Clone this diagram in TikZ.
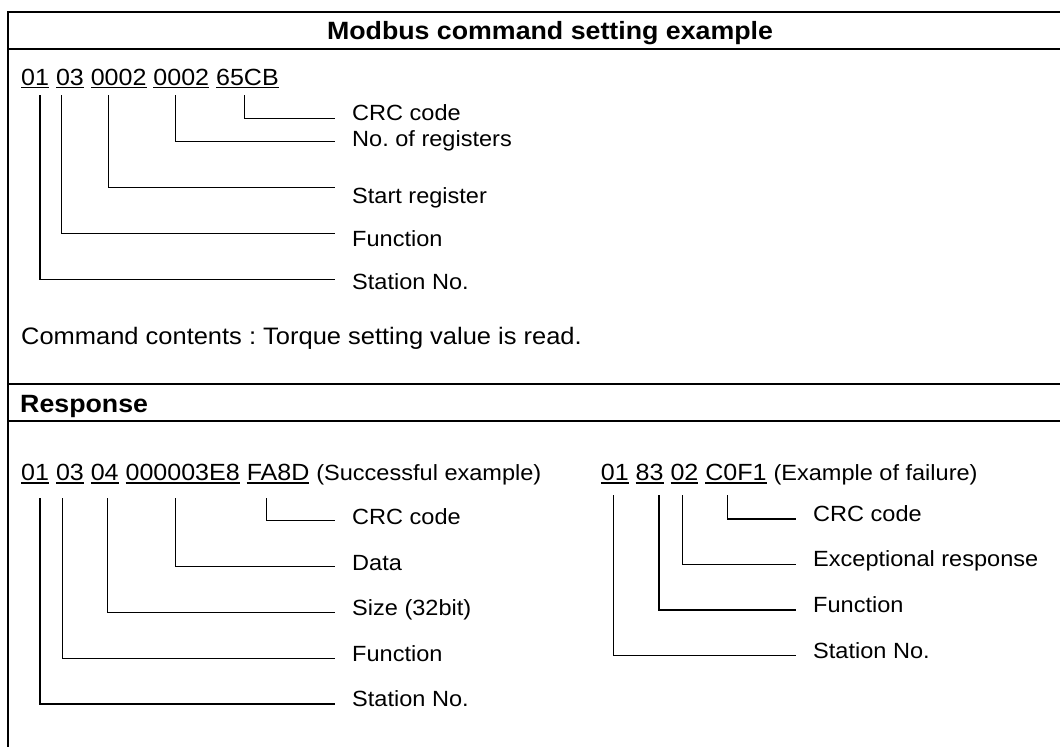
\documentclass[tikz,border=0pt]{standalone}
\usepackage{fontspec}
\setmainfont{Liberation Sans}[FakeStretch=1.07]
\newsavebox\ulbox
\newcommand\ulseg[1]{\sbox\ulbox{#1}\rlap{\rule[-3.3pt]{\wd\ulbox}{1.5pt}}\usebox\ulbox}
\newcommand\codefont{\fontsize{23.4}{28}\selectfont}
\newcommand\labfont{\fontsize{22}{26}\selectfont}
\newcommand\headfont{\fontsize{25}{30}\selectfont\bfseries}
\frenchspacing
\begin{document}
\begin{tikzpicture}[x=1pt,y=-1pt,
  frameline/.style={line width=2.5pt},
  conn/.style={line width=1.3pt},
  txt/.style={anchor=base west, inner sep=0pt},
  lab/.style={txt, font=\labfont}]
\useasboundingbox (0,0) rectangle (1060,747);
% frame
\draw[frameline] (1060,12) -- (8,12) -- (8,747);
\draw[frameline] (8,49) -- (1060,49);
\draw[frameline] (8,384) -- (1060,384);
\draw[frameline] (8,421) -- (1060,421);
% headings
\node[anchor=base, inner sep=0pt, font=\headfont] (title) at (550,39.5) {Modbus command setting example};
\node[txt, font=\headfont] (resp) at (20,412.5) {Response};
% ---- command ----
\node[txt, font=\codefont] (cmd) at (21,85) {\ulseg{01} \ulseg{03} \ulseg{0002} \ulseg{0002} \ulseg{65CB}};
\node[lab] (lcrc) at (352,120.7) {CRC code};
\node[lab] (lreg) at (352,146) {No. of registers};
\node[lab] (lstart) at (352,203) {Start register};
\node[lab] (lfun) at (352,246.7) {Function};
\node[lab] (lsta) at (352,289.3) {Station No.};
\coordinate (ca) at (244.3,95);  \coordinate (cae) at (335,118.3);
\coordinate (cb) at (175.7,95);  \coordinate (cbe) at (335,141.7);
\coordinate (cc) at (108.3,95);  \coordinate (cce) at (335,187.3);
\coordinate (cd) at (61.7,95);   \coordinate (cde) at (335,233.3);
\coordinate (ce) at (40,95);     \coordinate (cee) at (335,279.3);
\draw[conn] (ca) |- (cae);
\draw[conn] (cb) |- (cbe);
\draw[conn] (cc) |- (cce);
\draw[conn] (cd) |- (cde);
\draw[conn] (ce) |- (cee);
\node[txt, font=\fontsize{23.8}{28}\selectfont] (contents) at (21,344) {Command contents : Torque setting value is read.};
% ---- response, success ----
\node[txt, font=\codefont] (ok) at (21,480.5) {\ulseg{01} \ulseg{03} \ulseg{04} \ulseg{000003E8} \ulseg{FA8D} {\labfont (Successful example)}};
\node[lab] (ocrc) at (352,524.3) {CRC code};
\node[lab] (odata) at (352,570) {Data};
\node[lab] (osize) at (352,615) {Size (32bit)};
\node[lab] (ofun) at (352,661.7) {Function};
\node[lab] (osta) at (352,706.7) {Station No.};
\coordinate (oa) at (266.7,498.3); \coordinate (oae) at (335,520.7);
\coordinate (ob) at (175.7,498.3); \coordinate (obe) at (335,566.7);
\coordinate (oc) at (107.7,498.3); \coordinate (oce) at (335,612.7);
\coordinate (od) at (62.3,498.3);  \coordinate (ode) at (335,658.7);
\coordinate (oe) at (40,498.3);    \coordinate (oee) at (335,704);
\draw[conn] (oa) |- (oae);
\draw[conn] (ob) |- (obe);
\draw[conn] (oc) |- (oce);
\draw[conn] (od) |- (ode);
\draw[conn] (oe) |- (oee);
% ---- response, failure ----
\node[txt, font=\codefont] (ng) at (600.7,480.5) {\ulseg{01} \ulseg{83} \ulseg{02} \ulseg{C0F1} {\labfont (Example of failure)}};
\node[lab] (ncrc) at (813,521) {CRC code};
\node[lab] (nexc) at (813,566.7) {Exceptional response};
\node[lab] (nfun) at (813,612.7) {Function};
\node[lab] (nsta) at (813,658.3) {Station No.};
\coordinate (na) at (727.3,495); \coordinate (nae) at (796,519);
\coordinate (nb) at (682.3,495); \coordinate (nbe) at (796,564.3);
\coordinate (nc) at (659,495);   \coordinate (nce) at (796,610);
\coordinate (nd) at (613.3,495); \coordinate (nde) at (796,655.7);
\draw[conn] (na) |- (nae);
\draw[conn] (nb) |- (nbe);
\draw[conn] (nc) |- (nce);
\draw[conn] (nd) |- (nde);
\end{tikzpicture}
\end{document}
